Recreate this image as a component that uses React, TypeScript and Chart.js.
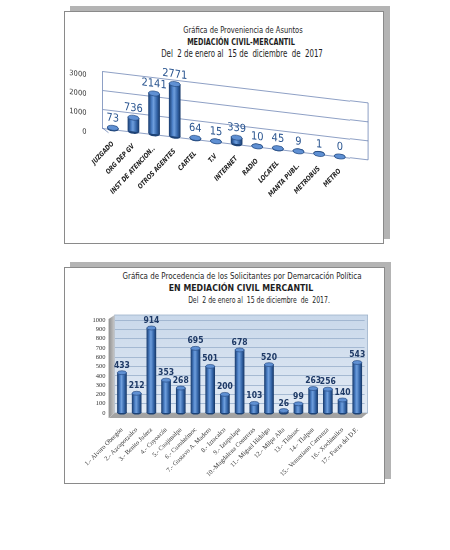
import React, { useEffect, useRef } from 'react';
import { Chart, registerables } from 'chart.js';

Chart.register(...registerables);

// ---------- Data: chart 1 (Proveniencia de Asuntos) ----------
const fuenteCats = ['JUZGADO', 'ORG DEP GV', 'INST DE ATENCION..', 'OTROS AGENTES', 'CARTEL', 'T.V', 'INTERNET', 'RADIO', 'LOCATEL', 'MANTA PUBL.', 'METROBUS', 'METRO'];
const fuenteVals = [73, 736, 2141, 2771, 64, 15, 339, 10, 45, 9, 1, 0];
const fuenteMax = 3000;
const fuenteStep = 1000;

// ---------- Data: chart 2 (Demarcación Política) ----------
const delegCats = ['1.- Alvaro Obregón', '2.- Azcapotzalco', '3.- Benito Juárez', '4.- Coyoacán', '5.- Cuajimalpa', '6.- Cuauhtémoc', '7.- Gustavo A. Madero', '8.- Iztacalco', '9.- Iztapalapa', '10.-Magdalena Contreras', '11.- Miguel Hidalgo', '12.- Milpa Alta', '13.- Tláhuac', '14.- Tlalpan', '15.- Venustiano Carranza', '16.- Xochimilco', '17.- Fuera del D.F.'];
const delegVals = [433, 212, 914, 353, 268, 695, 501, 200, 678, 103, 520, 26, 99, 263, 256, 140, 543];
const delegMax = 1000;
const delegStep = 100;

const NARROW = "'Liberation Sans Narrow', 'DejaVu Sans Condensed', 'Open Sans', sans-serif";
const SERIF = "'Liberation Serif', 'DejaVu Serif', serif";

const SHEAR = 0.12;
const GRID1 = 'rgba(70,100,160,0.75)';

function cylinder(c: any, thickness: number) {
  const chart = c.chart;
  const xs = chart.scales && chart.scales.x;
  if (!xs || c.dataIndex === undefined) return '#3C70B8';
  const cx = xs.getPixelForValue(c.dataIndex);
  if (!isFinite(cx)) return '#3C70B8';
  const g = chart.ctx.createLinearGradient(cx - thickness / 2, 0, cx + thickness / 2, 0);
  g.addColorStop(0, '#1B3F73');
  g.addColorStop(0.3, '#4F83C9');
  g.addColorStop(0.45, '#6E9EDC');
  g.addColorStop(0.75, '#3566A9');
  g.addColorStop(1, '#193B6C');
  return g;
}

const shearPlugin = {
  id: 'shear',
  beforeDraw(chart: any) {
    const ctx = chart.ctx;
    const r = chart.currentDevicePixelRatio || 1;
    const x0 = chart.chartArea.left;
    ctx.save();
    ctx.setTransform(r, r * SHEAR, 0, r, 0, -r * SHEAR * x0);
  },
  afterDraw(chart: any) {
    chart.ctx.restore();
  },
};

function capsPlugin(id: string, ry: number, capColor: string, baseColor: string) {
  return {
    id,
    beforeDatasetsDraw(chart: any) {
      const ctx = chart.ctx;
      const meta = chart.getDatasetMeta(0);
      ctx.save();
      meta.data.forEach((el: any) => {
        ctx.beginPath();
        ctx.ellipse(el.x, el.base, el.width / 2, ry, 0, 0, Math.PI * 2);
        ctx.fillStyle = baseColor;
        ctx.fill();
      });
      ctx.restore();
    },
    afterDatasetsDraw(chart: any) {
      const ctx = chart.ctx;
      const meta = chart.getDatasetMeta(0);
      ctx.save();
      meta.data.forEach((el: any) => {
        ctx.beginPath();
        ctx.ellipse(el.x, el.y, el.width / 2, ry, 0, 0, Math.PI * 2);
        ctx.fillStyle = capColor;
        ctx.fill();
        ctx.lineWidth = 0.6;
        ctx.strokeStyle = '#1E4278';
        ctx.stroke();
      });
      ctx.restore();
    },
  };
}

function labelsPlugin(id: string, font: string, color: string, gap: number) {
  return {
    id,
    afterDatasetsDraw(chart: any) {
      const ctx = chart.ctx;
      const meta = chart.getDatasetMeta(0);
      const vals = chart.data.datasets[0].data;
      ctx.save();
      ctx.font = font;
      ctx.fillStyle = color;
      ctx.textAlign = 'center';
      ctx.textBaseline = 'bottom';
      meta.data.forEach((el: any, i: number) => {
        ctx.fillText(String(vals[i]), el.x, el.y - gap);
      });
      ctx.restore();
    },
  };
}

const frame1Plugin = {
  id: 'frame1',
  beforeDatasetsDraw(chart: any) {
    const { left, right, top, bottom } = chart.chartArea;
    const ys = chart.scales.y;
    const ctx = chart.ctx;
    const ext = right + 18;
    ctx.save();
    ctx.strokeStyle = GRID1;
    ctx.lineWidth = 0.8;
    ctx.beginPath();
    ys.ticks.forEach((t: any) => {
      const py = ys.getPixelForValue(t.value);
      ctx.moveTo(right, py);
      ctx.lineTo(ext, py);
    });
    ctx.moveTo(ext, top);
    ctx.lineTo(ext, bottom);
    ctx.moveTo(left, bottom);
    ctx.lineTo(left + 6, bottom + 4);
    ctx.stroke();
    ctx.restore();
  },
};

const walls2Plugin = {
  id: 'walls2',
  beforeDraw(chart: any) {
    const { left, right, top, bottom } = chart.chartArea;
    const ctx = chart.ctx;
    ctx.save();
    const g = ctx.createLinearGradient(0, top - 5, 0, bottom);
    g.addColorStop(0, '#C9D8EA');
    g.addColorStop(1, '#E3EBF5');
    ctx.fillStyle = g;
    ctx.fillRect(left, top - 5, right - left + 3, bottom - top + 5);
    ctx.strokeStyle = '#9FB3CB';
    ctx.lineWidth = 0.8;
    ctx.strokeRect(left, top - 5, right - left + 3, bottom - top + 5);
    const lg = ctx.createLinearGradient(left - 6, 0, left, 0);
    lg.addColorStop(0, '#8E8E8E');
    lg.addColorStop(1, '#C9C9C9');
    ctx.fillStyle = lg;
    ctx.beginPath();
    ctx.moveTo(left - 6, top - 1);
    ctx.lineTo(left, top - 5);
    ctx.lineTo(left, bottom);
    ctx.lineTo(left - 6, bottom + 5);
    ctx.closePath();
    ctx.fill();
    ctx.restore();
  },
  beforeDatasetsDraw(chart: any) {
    const { left, right, bottom } = chart.chartArea;
    const ctx = chart.ctx;
    ctx.save();
    ctx.fillStyle = '#A3A3A3';
    ctx.beginPath();
    ctx.moveTo(left, bottom);
    ctx.lineTo(right + 3, bottom);
    ctx.lineTo(right - 3, bottom + 5);
    ctx.lineTo(left - 6, bottom + 5);
    ctx.closePath();
    ctx.fill();
    ctx.restore();
  },
};

function Title({ cx, cy, size, bold, text, sx }: { cx: number; cy: number; size: number; bold?: boolean; text: string; sx: number }) {
  const lh = size + 4;
  return (
    <div
      style={{
        position: 'absolute',
        left: cx - 200,
        width: 400,
        top: cy - lh / 2,
        height: lh,
        lineHeight: lh + 'px',
        textAlign: 'center',
        whiteSpace: 'pre',
        fontFamily: NARROW,
        fontSize: size,
        fontWeight: bold ? 'bold' : 'normal',
        color: '#1e1e1e',
        transform: `scaleX(${sx})`,
        transformOrigin: '50% 50%',
      }}
    >
      {text}
    </div>
  );
}

const plainTick = (v: any) => String(v);

export default function App() {
  const c1 = useRef<HTMLCanvasElement>(null);
  const c2 = useRef<HTMLCanvasElement>(null);

  useEffect(() => {
    const ch1 = new Chart(c1.current as HTMLCanvasElement, {
      type: 'bar',
      data: {
        labels: fuenteCats,
        datasets: [
          {
            data: fuenteVals,
            backgroundColor: (c: any) => cylinder(c, 11),
            borderWidth: 0,
            barThickness: 11,
          },
        ],
      },
      options: {
        animation: false,
        responsive: false,
        maintainAspectRatio: false,
        layout: { padding: { top: 13, right: 33.9, left: 0, bottom: 0 } },
        plugins: { legend: { display: false }, tooltip: { enabled: false } },
        scales: {
          x: {
            grid: { display: false },
            border: { display: false },
            ticks: {
              autoSkip: false,
              maxRotation: 50,
              minRotation: 50,
              padding: 3,
              color: '#222',
              font: { family: NARROW, size: 6.5, style: 'italic', weight: 'bold' },
            },
            afterFit: (s: any) => {
              s.height = 112;
            },
          },
          y: {
            min: 0,
            max: fuenteMax,
            ticks: { stepSize: fuenteStep, autoSkip: false, padding: 16, labelOffset: 6, color: '#333', font: { family: NARROW, size: 7.5 }, callback: plainTick },
            grid: { color: GRID1, lineWidth: 0.8, drawTicks: false },
            border: { display: true, color: GRID1, width: 0.8 },
            afterFit: (s: any) => {
              s.width = 38.5;
              s.paddingTop = 0;
              s.paddingBottom = 0;
            },
          },
        },
      } as any,
      plugins: [shearPlugin, frame1Plugin, capsPlugin('caps1', 2.5, '#5F90D3', '#1D4275'), labelsPlugin('lab1', `11px ${NARROW}`, '#2A5590', 4)],
    } as any);

    const ch2 = new Chart(c2.current as HTMLCanvasElement, {
      type: 'bar',
      data: {
        labels: delegCats,
        datasets: [
          {
            data: delegVals,
            backgroundColor: (c: any) => cylinder(c, 9),
            borderWidth: 0,
            barThickness: 9,
          },
        ],
      },
      options: {
        animation: false,
        responsive: false,
        maintainAspectRatio: false,
        layout: { padding: { top: 15, right: 19.4, left: 0, bottom: 0 } },
        plugins: { legend: { display: false }, tooltip: { enabled: false } },
        scales: {
          x: {
            grid: { display: false },
            border: { display: false },
            ticks: {
              autoSkip: false,
              maxRotation: 45,
              minRotation: 45,
              padding: 5,
              color: '#333',
              font: { family: SERIF, size: 6.5 },
            },
            afterFit: (s: any) => {
              s.height = 67;
            },
          },
          y: {
            min: 0,
            max: delegMax,
            ticks: { stepSize: delegStep, autoSkip: false, padding: 9, color: '#333', font: { family: SERIF, size: 6.5 }, callback: plainTick },
            grid: { color: '#98AECA', lineWidth: 0.8, drawTicks: false },
            border: { display: false },
            afterFit: (s: any) => {
              s.width = 50.6;
              s.paddingTop = 0;
              s.paddingBottom = 0;
            },
          },
        },
      } as any,
      plugins: [walls2Plugin, capsPlugin('caps2', 2, '#5F90D3', '#1D4275'), labelsPlugin('lab2', `bold 8.5px ${NARROW}`, '#1F3A66', 3)],
    } as any);

    return () => {
      ch1.destroy();
      ch2.destroy();
    };
  }, []);

  return (
    <div style={{ position: 'absolute', left: 0, top: 0, width: 450, height: 550, background: '#fff', overflow: 'hidden' }}>
      <div
        style={{
          position: 'absolute',
          left: 64,
          top: 11,
          width: 320,
          height: 233,
          boxSizing: 'border-box',
          border: '1px solid #8a8a8a',
          boxShadow: '6px -5px 0 #b4b4b4',
          background: '#fff',
        }}
      />
      <Title cx={243} cy={30} size={9} sx={0.83} text="Gráfica de Proveniencia de Asuntos" />
      <Title cx={241} cy={42} size={9.5} sx={0.76} bold text="MEDIACIÓN CIVIL-MERCANTIL" />
      <Title cx={242} cy={54} size={10} sx={0.78} text="Del  2 de enero al  15 de  diciembre  de  2017" />
      <canvas ref={c1} width={320} height={182} style={{ position: 'absolute', left: 64, top: 58, width: 320, height: 182 }} />

      <div
        style={{
          position: 'absolute',
          left: 64,
          top: 267,
          width: 321,
          height: 217,
          boxSizing: 'border-box',
          border: '1px solid #8a8a8a',
          boxShadow: '6px -5px 0 #b4b4b4',
          background: '#fff',
        }}
      />
      <Title cx={242} cy={276} size={9} sx={0.875} text="Gráfica de Procedencia de los Solicitantes por Demarcación Política" />
      <Title cx={241} cy={288} size={9.5} sx={0.92} bold text="EN MEDIACIÓN CIVIL MERCANTIL" />
      <Title cx={259} cy={300} size={9} sx={0.76} text="Del  2 de enero al  15 de diciembre  de  2017." />
      <canvas ref={c2} width={320} height={175} style={{ position: 'absolute', left: 64, top: 305, width: 320, height: 175 }} />
    </div>
  );
}
